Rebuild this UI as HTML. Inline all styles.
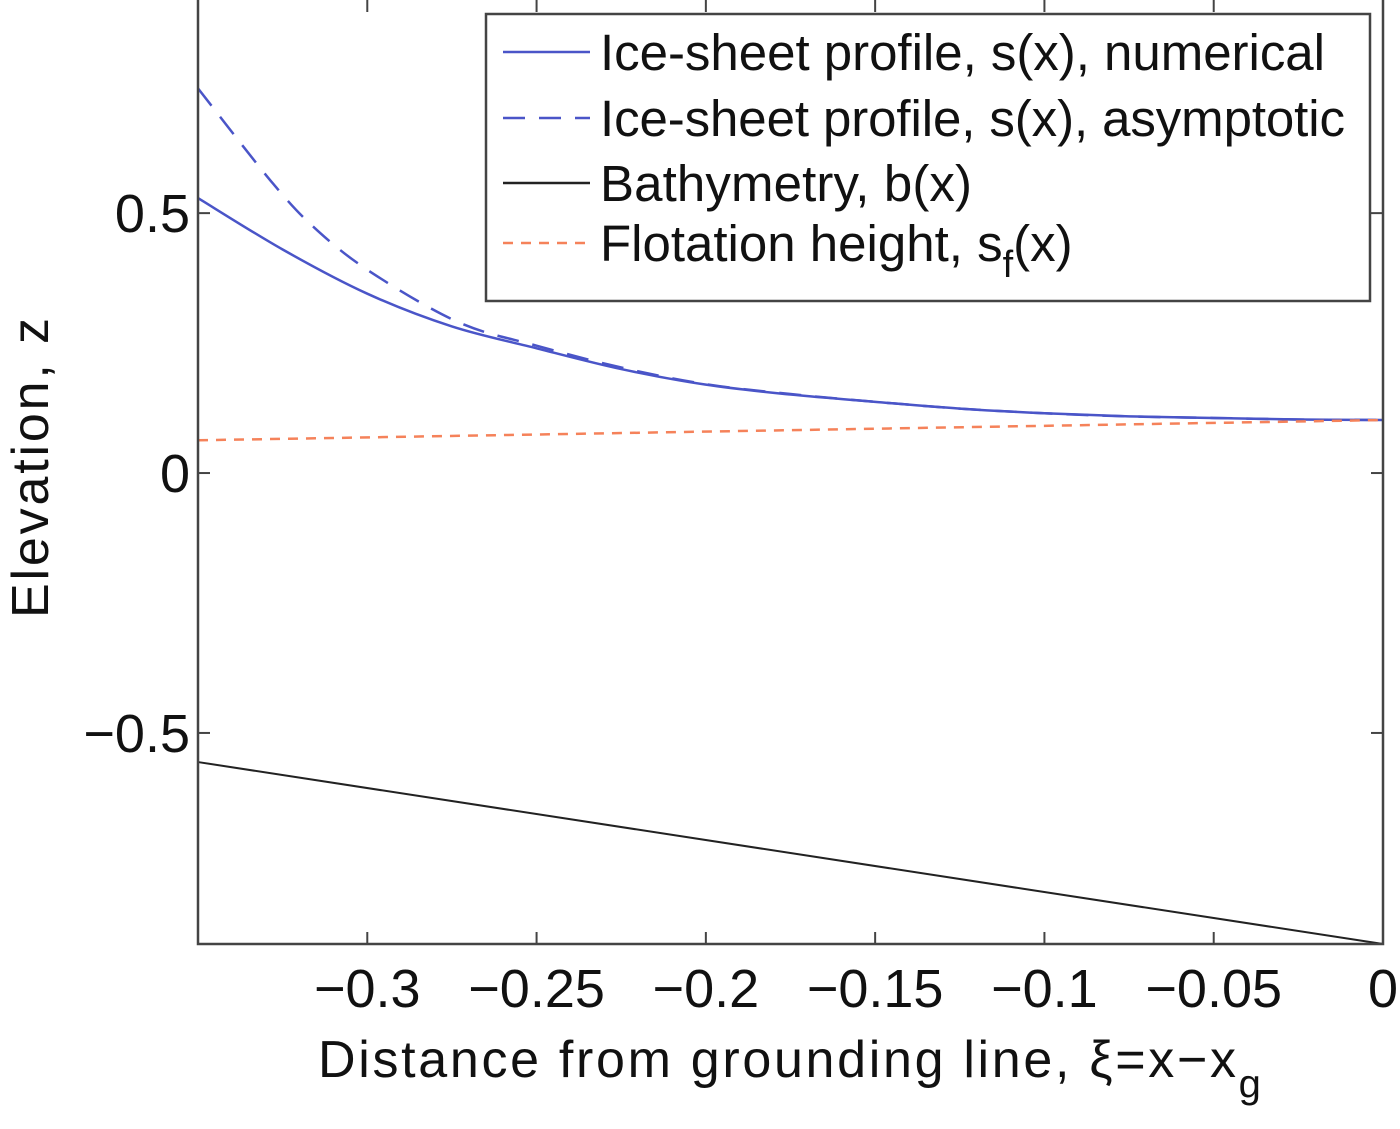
<!DOCTYPE html>
<html><head><meta charset="utf-8"><style>
body{margin:0;background:#fff;}
svg text{font-family:"Liberation Sans",sans-serif;fill:#111;}
</style></head><body>
<svg width="1400" height="1124">
<g id="plot"></g>
</svg>
<script>
const xsNum=[-0.35,-0.325,-0.3,-0.275,-0.25,-0.225,-0.2,-0.175,-0.15,-0.125,-0.1,-0.075,-0.05,-0.025,0];
const sNum=[0.529,0.43,0.345,0.282,0.24,0.2,0.17,0.151,0.137,0.124,0.115,0.109,0.106,0.103,0.102];
const xsAsym=[-0.35,-0.328,-0.3148,-0.2986,-0.273,-0.25,-0.225,-0.2,-0.175,-0.15,-0.125,-0.1,-0.075,-0.05,-0.025,0];
const sAsym=[0.74,0.558,0.467,0.385,0.29,0.245,0.203,0.171,0.152,0.137,0.124,0.115,0.109,0.106,0.103,0.102];
const bx=[-0.35,0];
const bathy=[-0.556,-0.906];
const flot=[0.063,0.102];
const xTicks=[-0.3,-0.25,-0.2,-0.15,-0.1,-0.05,0];
const xTickLabels=["\u22120.3","\u22120.25","\u22120.2","\u22120.15","\u22120.1","\u22120.05","0"];
const yTicks=[-0.5,0,0.5];
const yTickLabels=["\u22120.5","0","0.5"];
const L=198,R=1383,T=0,B=944,xmin=-0.35,xmax=0,ymin=-0.906,ymax=0.91;
const X=v=>L+(v-xmin)/(xmax-xmin)*(R-L);
const Y=v=>B-(v-ymin)/(ymax-ymin)*(B-T);
const NS="http://www.w3.org/2000/svg";
const g=document.getElementById('plot');
function mk(t,a,p){const e=document.createElementNS(NS,t);for(const k in a)e.setAttribute(k,a[k]);(p||g).appendChild(e);return e;}
function smooth(px,py){let d=`M${X(px[0])},${Y(py[0])}`;const P=px.map((v,i)=>[X(v),Y(py[i])]);
for(let i=0;i<P.length-1;i++){const p0=P[Math.max(0,i-1)],p1=P[i],p2=P[i+1],p3=P[Math.min(P.length-1,i+2)];
d+=` C${p1[0]+(p2[0]-p0[0])/6},${p1[1]+(p2[1]-p0[1])/6} ${p2[0]-(p3[0]-p1[0])/6},${p2[1]-(p3[1]-p1[1])/6} ${p2[0]},${p2[1]}`;}return d;}
let e;
e=mk('path',{d:smooth(xsAsym,sAsym),fill:'none',stroke:'#4a55c8','stroke-width':2.5,'stroke-dasharray':'22,14'});


e=mk('path',{d:smooth(xsNum,sNum),fill:'none',stroke:'#4a55c8','stroke-width':2.5});


e=mk('line',{x1:X(bx[0]),y1:Y(bathy[0]),x2:X(bx[1]),y2:Y(bathy[1]),stroke:'#222','stroke-width':2});


e=mk('line',{x1:X(bx[0]),y1:Y(flot[0]),x2:X(bx[1]),y2:Y(flot[1]),stroke:'#f5825a','stroke-width':2.5,'stroke-dasharray':'10,8'});


e=mk('rect',{x:L,y:-2,width:R-L,height:B+2,fill:'none',stroke:'#444','stroke-width':2.5});


xTicks.forEach((v,i)=>{
 mk('line',{x1:X(v),y1:B,x2:X(v),y2:B-12,stroke:'#444','stroke-width':2});
 mk('line',{x1:X(v),y1:T,x2:X(v),y2:T+12,stroke:'#444','stroke-width':2});
 const t=mk('text',{x:X(v),y:1007,'text-anchor':'middle','font-size':54});t.textContent=xTickLabels[i];
 
 
});
yTicks.forEach((v,i)=>{
 mk('line',{x1:L,y1:Y(v),x2:L+12,y2:Y(v),stroke:'#444','stroke-width':2});
 mk('line',{x1:R,y1:Y(v),x2:R-12,y2:Y(v),stroke:'#444','stroke-width':2});
 const t=mk('text',{x:190,y:Y(v)+19,'text-anchor':'end','font-size':54});t.textContent=yTickLabels[i];
 
 
});
e=mk('text',{x:318,y:1077,'font-size':52});
e.innerHTML='<tspan textLength="918" lengthAdjust="spacing">Distance from grounding line, ξ=x−x</tspan><tspan dy="20" font-size="40">g</tspan>';


e=mk('text',{x:48,y:468,'text-anchor':'middle','font-size':52,transform:'rotate(-90 48 468)',textLength:300,lengthAdjust:'spacing'});
e.textContent='Elevation, z';


const lg=mk('g',{});


mk('rect',{x:486,y:14,width:884,height:287,fill:'#fff',stroke:'#444','stroke-width':2.5},lg);
const labels=['Ice-sheet profile, s(x), numerical','Ice-sheet profile, s(x), asymptotic','Bathymetry, b(x)','Flotation height, s<tspan dy="16" font-size="38">f</tspan><tspan dy="-16">(x)</tspan>'];
const lens=[725,745,372,0];
const ly=[52,118,183,243];
const styles=[{stroke:'#4a55c8',d:''},{stroke:'#4a55c8',d:'22,14'},{stroke:'#222',d:''},{stroke:'#f5825a',d:'10,8'}];
labels.forEach((s,i)=>{
 const en=mk('g',{},lg);
 
 
 const a={x1:503,y1:ly[i],x2:590,y2:ly[i],stroke:styles[i].stroke,'stroke-width':2.5};
 if(styles[i].d)a['stroke-dasharray']=styles[i].d;
 mk('line',a,en);
 const ta={x:600,y:ly[i]+18,'font-size':51};
 if(lens[i]){ta.textLength=lens[i];ta.lengthAdjust='spacing';}
 const t=mk('text',ta,en);t.innerHTML=s;
});
</script>
</body></html>
